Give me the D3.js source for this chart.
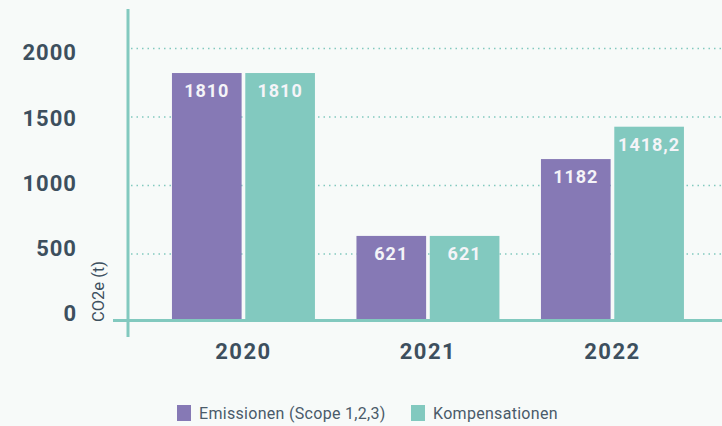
<!DOCTYPE html>
<html><head><meta charset="utf-8">
<script src="https://cdn.jsdelivr.net/npm/d3@7"></script>
<style>
html,body{margin:0;padding:0;background:#f7faf9;}
svg{display:block;font-family:Roboto, "Noto Sans", sans-serif;}
</style></head>
<body><svg id="c" width="722" height="426"></svg>
<script>
const years = ["2020","2021","2022"];
const seriesNames = ["Emissionen (Scope 1,2,3)","Kompensationen"];
const emissionen = [1810, 621, 1182];
const kompensationen = [1810, 621, 1418.2];
const valueLabels = [["1810","621","1182"],["1810","621","1418,2"]];
const yTicks = [0, 500, 1000, 1500, 2000];
const colors = ["#8679b5", "#82c9bf"];

const svg = d3.select("#c");
const y = d3.scaleLinear().domain([0, 2000]).range([321, 47]);
const yLab = d3.scaleLinear().domain([0, 2000]).range([313.5, 52.5]);
const x0 = d3.scaleBand().domain(years).range([151.2, 704.7]).paddingInner(0.225).paddingOuter(0.1125);
const x1 = d3.scaleBand().domain([0,1]).range([0, x0.bandwidth()]).paddingInner(0.05);
const axisCol = "#82c9bf", textCol = "#3d4f5e";

// gridlines
svg.append("g").selectAll("line").data(yTicks.filter(d=>d>0)).join("line")
  .attr("x1", 131).attr("x2", 722).attr("y1", d=>y(d)+1.5).attr("y2", d=>y(d)+1.5)
  .attr("stroke", axisCol).attr("stroke-width", 1.5).attr("stroke-dasharray", "1.5,4");

// y tick labels
svg.append("g").selectAll("text").data(yTicks).join("text")
  .attr("x", 77).attr("y", d=>yLab(d)).attr("dy","0.36em").attr("text-anchor","end")
  .attr("font-size", 22).attr("font-weight", 700).attr("fill", textCol).attr("letter-spacing", 1)
  .text(d=>d);

// y title
svg.append("text").attr("transform","translate(104,322) rotate(-90)")
  .attr("font-size", 16.5).attr("fill", textCol).text("CO2e (t)");

// bars
const data = [emissionen, kompensationen];
years.forEach((yr, i) => {
  [0,1].forEach(s => {
    const v = data[s][i];
    svg.append("rect").attr("x", x0(yr)+x1(s)).attr("width", x1.bandwidth())
      .attr("y", y(v)).attr("height", 319-y(v)).attr("fill", colors[s]);
    svg.append("text").attr("x", x0(yr)+x1(s)+x1.bandwidth()/2).attr("y", y(v)+24)
      .attr("text-anchor","middle").attr("font-size", 18).attr("font-weight", 700)
      .attr("fill", "#f4f4f8").attr("letter-spacing", 1).text(valueLabels[s][i]);
  });
});

// axes lines
svg.append("line").attr("x1",128).attr("x2",128).attr("y1",9).attr("y2",337)
  .attr("stroke", axisCol).attr("stroke-width", 3);
svg.append("line").attr("x1",113).attr("x2",722).attr("y1",320.5).attr("y2",320.5)
  .attr("stroke", axisCol).attr("stroke-width", 3);

// x labels
svg.append("g").selectAll("text").data(years).join("text")
  .attr("x", d=>x0(d)+x0.bandwidth()/2).attr("y", 359).attr("text-anchor","middle")
  .attr("font-size", 22).attr("font-weight", 700).attr("fill", textCol).attr("letter-spacing", 1.5)
  .text(d=>d);

// legend
const legX = [177, 411];
seriesNames.forEach((n, i) => {
  svg.append("rect").attr("x", legX[i]).attr("y", 405).attr("width", 14).attr("height", 16).attr("fill", colors[i]);
  svg.append("text").attr("x", legX[i]+22).attr("y", 419).attr("font-size", 16)
    .attr("letter-spacing", 0.3).attr("fill", "#4a5b6a").text(n);
});
</script></body></html>
